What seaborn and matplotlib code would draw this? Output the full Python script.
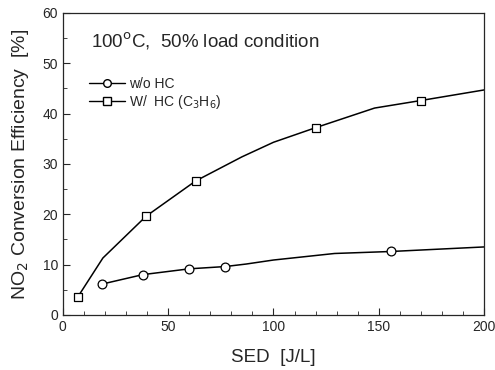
import matplotlib
matplotlib.use("Agg")
import matplotlib.pyplot as plt
import seaborn as sns
import pandas as pd
from matplotlib.lines import Line2D
from matplotlib.ticker import MultipleLocator

# curve without HC (line vertices) and measured points
sed_wo = [18.4, 38, 60, 77, 87, 100, 129, 156, 200]
eff_wo = [6.1, 8.0, 9.15, 9.6, 10.1, 10.9, 12.2, 12.6, 13.5]
meas_wo = [True, True, True, True, False, False, False, True, False]

# curve with HC (C3H6)
sed_w = [7, 19, 39.5, 63, 85, 100, 120, 148, 170, 200]
eff_w = [3.5, 11.3, 19.6, 26.6, 31.4, 34.3, 37.2, 41.1, 42.6, 44.7]
meas_w = [True, False, True, True, False, False, True, False, True, False]

df_wo = pd.DataFrame({"sed": sed_wo, "eff": eff_wo, "meas": meas_wo})
df_w = pd.DataFrame({"sed": sed_w, "eff": eff_w, "meas": meas_w})

sns.set_style("ticks")
plt.rcParams["font.family"] = ["Liberation Sans", "DejaVu Sans"]

fig = plt.figure(figsize=(4.95, 3.70), dpi=100)
ax = fig.add_axes([0.127, 0.149, 0.851, 0.816])

sns.lineplot(data=df_wo, x="sed", y="eff", color="black", lw=1.1, ax=ax, sort=False)
sns.lineplot(data=df_w, x="sed", y="eff", color="black", lw=1.1, ax=ax, sort=False)
sns.scatterplot(data=df_wo[df_wo.meas], x="sed", y="eff", marker="o", s=40,
                facecolor="white", edgecolor="black", linewidth=0.9, ax=ax, zorder=3)
sns.scatterplot(data=df_w[df_w.meas], x="sed", y="eff", marker="s", s=40,
                facecolor="white", edgecolor="black", linewidth=0.9, ax=ax, zorder=3)

ax.set_xlim(0, 200)
ax.set_ylim(0, 60)
ax.xaxis.set_major_locator(MultipleLocator(50))
ax.xaxis.set_minor_locator(MultipleLocator(10))
ax.yaxis.set_major_locator(MultipleLocator(10))
ax.yaxis.set_minor_locator(MultipleLocator(5))
ax.tick_params(which="both", direction="in", top=False, right=False, labelsize=10)
ax.tick_params(which="major", length=5)
ax.tick_params(which="minor", length=3)
for s in ax.spines.values():
    s.set_linewidth(0.9)

ax.set_xlabel("SED  [J/L]", fontsize=13.5, labelpad=11)
ax.set_ylabel("NO$_2$ Conversion Efficiency  [%]", fontsize=14, labelpad=8)

ax.text(0.066, 0.884, "100$^{\\rm o}$C,  50% load condition", transform=ax.transAxes,
        fontsize=13.5)

handles = [
    Line2D([], [], color="black", lw=1, marker="o", ms=5.5, mfc="white", mec="black"),
    Line2D([], [], color="black", lw=1, marker="s", ms=5.5, mfc="white", mec="black"),
]
ax.legend(handles, ["w/o HC", "W/  HC (C$_3$H$_6$)"], loc="upper left",
          bbox_to_anchor=(0.062, 0.787), frameon=False, fontsize=10,
          handlelength=2.6, handletextpad=0.3, labelspacing=0.15, borderpad=0,
          borderaxespad=0)

fig.savefig("out.png", dpi=100)
